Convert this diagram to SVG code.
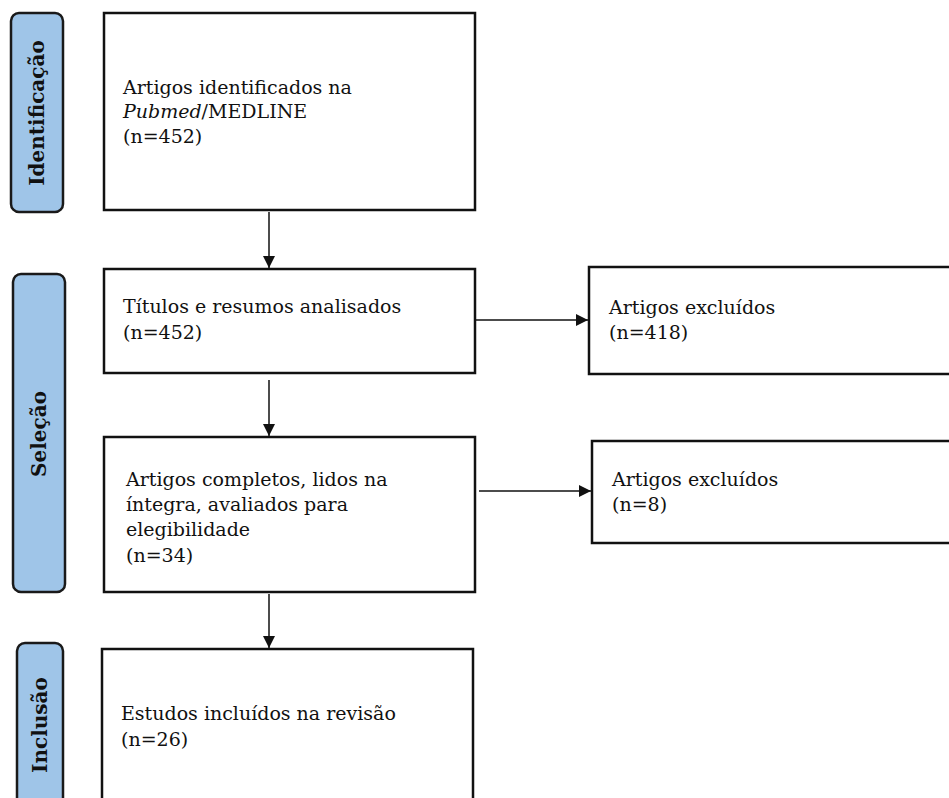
<svg xmlns="http://www.w3.org/2000/svg" width="949" height="798" viewBox="0 0 949 798">
<style>
.box{fill:#fff;stroke:#111;stroke-width:2.5}
.lab{fill:#9fc5e8;stroke:#1a1a1a;stroke-width:2.5}
.t{font-family:"DejaVu Serif","Liberation Serif",serif;font-size:19px;fill:#111}
.v{font-family:"DejaVu Serif","Liberation Serif",serif;font-size:20px;font-weight:bold;fill:#111}
.c{stroke:#111;stroke-width:1.5;fill:none}
</style>
<defs>
<marker id="ah" viewBox="0 0 10 10" refX="10" refY="5" markerWidth="12" markerHeight="12" markerUnits="userSpaceOnUse" orient="auto">
<path d="M0,0 L10,5 L0,10 Z" fill="#111"/>
</marker>
</defs>
<rect width="949" height="798" fill="#fff"/>
<g id="lab-ident"><rect class="lab" x="11" y="13" width="52" height="199" rx="8"/><text class="v" transform="translate(44,113) rotate(-90)" text-anchor="middle">Identificação</text></g>
<g id="lab-selecao"><rect class="lab" x="13" y="274" width="52" height="318" rx="8"/><text class="v" transform="translate(46,434) rotate(-90)" text-anchor="middle">Seleção</text></g>
<g id="lab-inclusao"><rect class="lab" x="17" y="643" width="46" height="170" rx="8"/><text class="v" transform="translate(47,725) rotate(-90)" text-anchor="middle">Inclusão</text></g>
<g id="n1"><rect class="box" x="104" y="13" width="371" height="197"/><text class="t" x="123" y="94">Artigos identificados na</text><text class="t" x="123" y="118"><tspan font-style="italic">Pubmed</tspan>/MEDLINE</text><text class="t" x="123" y="143">(n=452)</text></g>
<g id="n2"><rect class="box" x="104" y="269" width="371" height="104"/><text class="t" x="123" y="313">Títulos e resumos analisados</text><text class="t" x="123" y="339">(n=452)</text></g>
<g id="n3"><rect class="box" x="104" y="437" width="371" height="155"/><text class="t" x="126" y="486">Artigos completos, lidos na</text><text class="t" x="126" y="511">íntegra, avaliados para</text><text class="t" x="126" y="536">elegibilidade</text><text class="t" x="126" y="562">(n=34)</text></g>
<g id="n4"><rect class="box" x="102" y="649" width="371" height="170"/><text class="t" x="121" y="720">Estudos incluídos na revisão</text><text class="t" x="121" y="746">(n=26)</text></g>
<g id="x1"><rect class="box" x="589" y="267" width="380" height="107"/><text class="t" x="609" y="314">Artigos excluídos</text><text class="t" x="609" y="339">(n=418)</text></g>
<g id="x2"><rect class="box" x="592" y="441" width="380" height="102"/><text class="t" x="612" y="486">Artigos excluídos</text><text class="t" x="612" y="511">(n=8)</text></g>
<g id="connectors">
<line class="c" x1="269" y1="212" x2="269" y2="268" marker-end="url(#ah)"/>
<line class="c" x1="269" y1="380" x2="269" y2="436" marker-end="url(#ah)"/>
<line class="c" x1="269" y1="594" x2="269" y2="648" marker-end="url(#ah)"/>
<line class="c" x1="476" y1="320" x2="588" y2="320" marker-end="url(#ah)"/>
<line class="c" x1="479" y1="491" x2="591" y2="491" marker-end="url(#ah)"/>
</g>
</svg>
